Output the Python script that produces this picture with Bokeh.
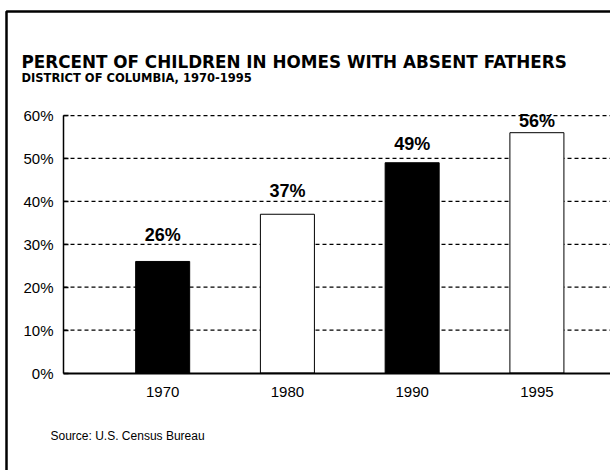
from bokeh.plotting import figure
from bokeh.models import (Range1d, FixedTicker, PrintfTickFormatter, Label,
                          BoxAnnotation, ColumnDataSource)
from bokeh.embed import file_html
from bokeh.resources import INLINE
from bokeh.core.properties import value

# ---- data ----
years = ["1970", "1980", "1990", "1995"]
percent = [26, 37, 49, 56]
y_ticks = [0, 10, 20, 30, 40, 50, 60]

title_text = "PERCENT OF CHILDREN IN HOMES WITH ABSENT FATHERS"
subtitle_text = "DISTRICT OF COLUMBIA, 1970-1995"
source_text = "Source: U.S. Census Bureau"

# ---- styles / layout ----
bar_colors = ["black", "white", "black", "white"]
label_gap_px = [26, 23, 19, 12]   # bar top -> label centre

W, H = 610, 470
# the frame covers the whole canvas; ranges chosen so the axes sit where
# they sit in the reference
X0, X1 = -1.30, 3.59
Y0, Y1 = -22.7, 86.8


def dx(px):
    return X0 + px * (X1 - X0) / W


def dy(py):
    return Y1 - py * (Y1 - Y0) / H


AXIS_X = dx(63)

idx = list(range(len(years)))
src = ColumnDataSource(dict(
    x=idx, top=percent, color=bar_colors,
    label=[f"{v}%" for v in percent],
    off=[-g for g in label_gap_px],
))

p = figure(width=W, height=H, output_backend="svg", toolbar_location=None,
           x_range=Range1d(X0, X1), y_range=Range1d(Y0, Y1),
           min_border=0, min_border_left=0, min_border_right=0,
           min_border_top=0, min_border_bottom=0)
p.outline_line_color = None
p.background_fill_color = "white"
p.border_fill_color = "white"
p.xgrid.visible = False
p.ygrid.visible = False

# dashed gridlines (from the tick values), starting at the y axis
grid_vals = y_ticks[1:]
p.segment(x0=[AXIS_X] * len(grid_vals), x1=[X1] * len(grid_vals),
          y0=grid_vals, y1=grid_vals, line_color="black",
          line_dash="4 3", line_width=1.2)

p.vbar(x="x", top="top", width=0.433, bottom=0, fill_color="color",
       line_color="black", line_width=1, source=src)

p.text(x="x", y="top", text="label", source=src, text_align="center",
       text_baseline="middle", y_offset="off",
       text_font=value("Liberation Sans"), text_font_style="bold",
       text_font_size="18px", text_color="black")

# y axis
yax = p.yaxis[0]
yax.fixed_location = AXIS_X
yax.bounds = (y_ticks[0], y_ticks[-1])
yax.ticker = FixedTicker(ticks=y_ticks)
yax.formatter = PrintfTickFormatter(format="%d%%")
yax.axis_line_color = "black"
yax.axis_line_width = 1.5
yax.major_tick_in = 5
yax.major_tick_out = 0
yax.major_tick_line_width = 1.5
yax.minor_tick_line_color = None
yax.major_label_standoff = 10
yax.major_label_text_font = "Liberation Sans"
yax.major_label_text_font_size = "15px"
yax.major_label_text_color = "black"

# x axis
xax = p.xaxis[0]
xax.fixed_location = 0
xax.bounds = (AXIS_X, X1)
xax.ticker = FixedTicker(ticks=idx)
xax.major_label_overrides = {i: y for i, y in zip(idx, years)}
xax.axis_line_color = "black"
xax.axis_line_width = 2
xax.major_tick_in = 0
xax.major_tick_out = 0
xax.minor_tick_line_color = None
xax.major_label_standoff = 14
xax.major_label_text_font = "Liberation Sans"
xax.major_label_text_font_size = "15px"
xax.major_label_text_color = "black"

# outer frame (left and top edges visible)
p.add_layout(BoxAnnotation(left=dx(6), right=dx(700), top=dy(11), bottom=dy(600),
                           fill_alpha=0, fill_color=None, line_color="black",
                           line_width=2.5, line_alpha=1))

# texts (positions are text centres)
p.add_layout(Label(x=dx(21), y=dy(61), text=title_text,
                   text_font="DejaVu Sans", text_font_style="bold",
                   text_font_size="16.8px", text_baseline="middle",
                   text_color="black"))
p.add_layout(Label(x=dx(21), y=dy(77.5), text=subtitle_text,
                   text_font="DejaVu Sans", text_font_style="bold",
                   text_font_size="11.5px", text_baseline="middle",
                   text_color="black"))
p.add_layout(Label(x=dx(50), y=dy(435), text=source_text,
                   text_font="Liberation Sans", text_font_size="12px",
                   text_baseline="middle", text_color="black"))

open("out.html", "w").write(file_html(p, INLINE))
